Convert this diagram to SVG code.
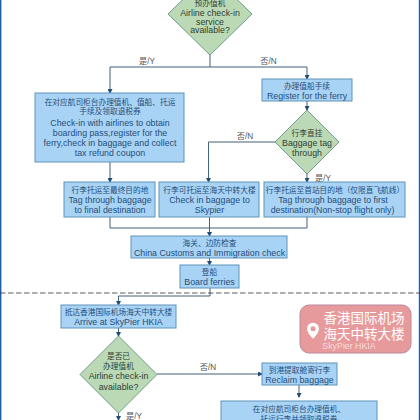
<svg xmlns="http://www.w3.org/2000/svg" width="420" height="420" viewBox="0 0 420 420">
<defs><marker id="a" markerWidth="5" markerHeight="5" refX="4" refY="2.5" orient="auto" markerUnits="userSpaceOnUse"><path d="M0,0L5,2.5L0,5z" fill="#1f4e79"/></marker></defs>
<style>
text{font-family:"Liberation Sans","Noto Sans CJK SC",sans-serif;text-anchor:middle}
.b{fill:#a9d3f5;stroke:#5f93ba;stroke-width:1}
.d{fill:#bcd9b6;stroke:#6f9f8a;stroke-width:1}
.t{font-size:8.8px;fill:#1f4e79}
.z{font-size:7.7px;fill:#1f4e79}
.k{font-size:8.8px;fill:#2c3f33}
.y{font-size:7.7px;fill:#2c3f33}
.l{font-size:8.2px;fill:#555}
.c{fill:none;stroke:#44617b;stroke-width:1}
.ar{marker-end:url(#a)}
</style>
<rect width="420" height="420" fill="#fff"/>
<rect x="0" y="0" width="1.4" height="420" fill="#1c5fa8"/>
<rect x="418.8" y="0" width="1.2" height="420" fill="#1c5fa8"/>
<g id="connectors">
<path class="c" d="M210,55V67"/>
<path class="c ar" d="M210,67H110V93"/>
<path class="c ar" d="M210,67H307V79"/>
<path class="c ar" d="M307,101V110"/>
<path class="c ar" d="M275,142H208.500V182"/>
<path class="c ar" d="M307,174V182"/>
<path class="c ar" d="M110,162V182"/>
<path class="c" d="M110,217V228H307V217"/>
<path class="c ar" d="M209.500,217V236"/>
<path class="c ar" d="M209.500,258V265"/>
<path class="c ar" d="M210,288V296H118.500V305"/>
<path class="c ar" d="M118.500,328V336"/>
<path class="c ar" d="M157,374H262"/>
<path class="c ar" d="M299,385V397"/>
<path class="c ar" d="M118.500,413V420"/>
</g>
<path d="M0,293H420" fill="none" stroke="#333" stroke-width="0.8" stroke-dasharray="5.500 2.500"/>
<text class="l" x="147" y="64">是/Y</text>
<text class="l" x="268.500" y="64">否/N</text>
<text class="l" x="245" y="139">否/N</text>
<text class="l" x="323" y="181">是/Y</text>
<text class="l" x="208" y="370">否/N</text>
<text class="l" x="134" y="419">是/Y</text>
<g id="n1"><path class="d" d="M210,-27L252,14L210,55L168,14z"/><text class="y" x="210" y="6">预办值机</text><text class="k" x="210" y="16">Airline check-in</text><text class="k" x="210" y="24.500">service</text><text class="k" x="210" y="33">available?</text></g>
<g id="n2"><rect class="b" x="35" y="93" width="149" height="69"/><text class="z" x="110" y="104.500">在对应航司柜台办理值机、值船、托运</text><text class="z" x="110" y="114">手续及领取退税券</text><text class="t" x="110" y="126">Check-in with airlines to obtain</text><text class="t" x="110" y="136">boarding pass,register for the</text><text class="t" x="110" y="146">ferry,check in baggage and collect</text><text class="t" x="110" y="156">tax refund coupon</text></g>
<g id="n3"><rect class="b" x="262" y="79" width="90" height="22"/><text class="z" x="307" y="89">办理值船手续</text><text class="t" x="307" y="98.500">Register for the ferry</text></g>
<g id="n4"><path class="d" d="M307,110L339,142L307,174L275,142z"/><text class="y" x="307" y="136">行李直挂</text><text class="k" x="307" y="146">Baggage tag</text><text class="k" x="307" y="156">through</text></g>
<g id="n5"><rect class="b" x="64" y="182" width="91" height="35"/><text class="z" x="110" y="193">行李托运至最终目的地</text><text class="t" x="110" y="203">Tag through baggage</text><text class="t" x="110" y="213">to final destination</text></g>
<g id="n6"><rect class="b" x="159" y="182" width="100" height="35"/><text class="z" x="209.500" y="193">行李可托运至海天中转大楼</text><text class="t" x="209.500" y="203">Check in baggage to</text><text class="t" x="209.500" y="213">Skypier</text></g>
<g id="n7"><rect class="b" x="264" y="182" width="141" height="35"/><text class="z" x="335" y="193">行李托运至首站目的地（仅限直飞航线）</text><text class="t" x="333" y="203">Tag through baggage to first</text><text class="t" x="332.500" y="213">destination(Non-stop flight only)</text></g>
<g id="n8"><rect class="b" x="131" y="236" width="156" height="22"/><text class="z" x="209.500" y="246">海关、边防检查</text><text class="t" x="209.500" y="255.500">China Customs and Immigration check</text></g>
<g id="n9"><rect class="b" x="180" y="265" width="59" height="23"/><text class="z" x="209.500" y="275">登船</text><text class="t" x="209.500" y="285">Board ferries</text></g>
<g id="n10"><rect class="b" x="61" y="305" width="115" height="23"/><text class="z" x="118.500" y="315">抵达香港国际机场海天中转大楼</text><text class="t" x="118.500" y="325">Arrive at SkyPier HKIA</text></g>
<g id="n11"><path class="d" d="M118.500,336L157,374.500L118.500,413L80,374.500z"/><text class="y" x="118.500" y="359">是否已</text><text class="y" x="118.500" y="369">办理值机</text><text class="k" x="118.500" y="379">Airline check-in</text><text class="k" x="118.500" y="390">available?</text></g>
<g id="n12"><rect class="b" x="262" y="363" width="75" height="22"/><text class="z" x="299.500" y="373">到港提取舱寄行李</text><text class="t" x="299.500" y="383">Reclaim baggage</text></g>
<g id="n13"><rect class="b" x="221" y="401" width="156" height="30"/><text class="z" x="299" y="412">在对应航司柜台办理值机、</text><text class="z" x="299" y="422">托运行李并领取退税券</text></g>
<g id="n14"><rect x="300" y="305" width="111" height="48" rx="9" fill="#e79a9c" stroke="#b98a9c"/><path d="M307,328.700a6,6 0 0 1 12,0c0,4 -6,10 -6,10s-6,-6 -6,-10z" fill="#fff"/><circle cx="313" cy="328.700" r="2.500" fill="#e79a9c"/><text x="364" y="323" font-size="13.500" fill="#fff">香港国际机场</text><text x="364" y="339" font-size="13.500" fill="#fff">海天中转大楼</text><text x="349" y="349" font-size="8.800" fill="#f7dcdc">SkyPier HKIA</text></g>
</svg>
